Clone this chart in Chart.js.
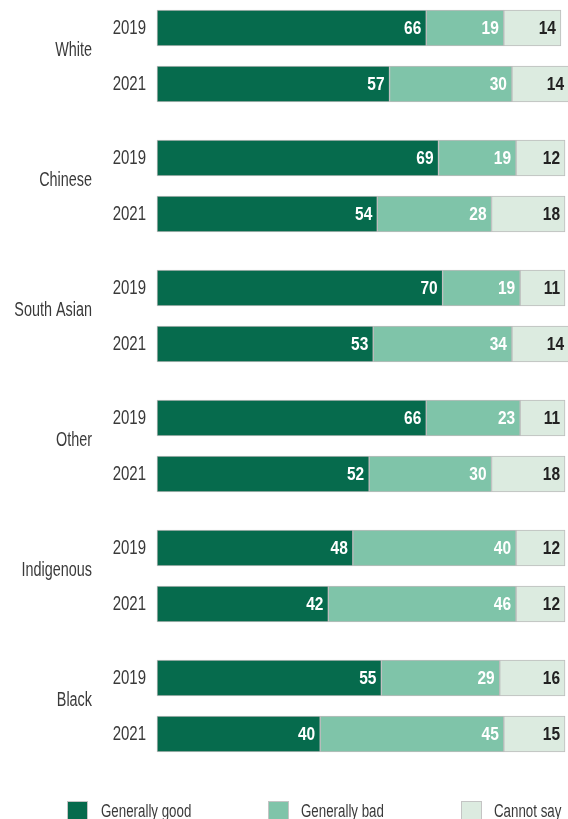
<!DOCTYPE html>
<html>
<head>
<meta charset="utf-8">
<script src="https://cdn.jsdelivr.net/npm/chart.js@4/dist/chart.umd.min.js"></script>
<style>
  body { margin: 0; background: #fff; }
  #chartBox { position: relative; width: 568px; height: 819px; }
</style>
</head>
<body>
<div id="chartBox"><canvas id="barChart"></canvas></div>
<script>
const groups = ['White', 'Chinese', 'South Asian', 'Other', 'Indigenous', 'Black'];
const years = ['2019', '2021'];
const seriesNames = ['Generally good', 'Generally bad', 'Cannot say'];

// values per group: [2019, 2021]
const good = [[66, 57], [69, 54], [70, 53], [66, 52], [48, 42], [55, 40]];
const bad = [[19, 30], [19, 28], [19, 34], [23, 30], [40, 46], [29, 45]];
const cannotSay = [[14, 14], [12, 18], [11, 14], [11, 18], [12, 12], [16, 15]];

const colors = ['#066b4d', '#7fc4a9', '#dcebe0'];
const labelColors = ['#ffffff', '#ffffff', '#222222'];
const fontFam = "'Liberation Sans', Arial, sans-serif";

// layout of rows, in "bar slot" units
const GROUP_STEP = 130 / 56;
function rowPos(g, yr) { return g * GROUP_STEP + yr; }

function buildData(arr) {
  const out = [];
  arr.forEach((pair, gi) => pair.forEach((v, yi) => out.push({ x: v, y: rowPos(gi, yi) })));
  return out;
}

const allSeries = [good, bad, cannotSay];

// squeezed text to fake a condensed face
function narrowText(ctx, txt, x, y, squeeze) {
  ctx.save();
  ctx.translate(x, y);
  ctx.scale(squeeze, 1);
  ctx.fillText(txt, 0, 0);
  ctx.restore();
}

const barLabels = {
  id: 'barLabels',
  afterDatasetsDraw(chart) {
    const ctx = chart.ctx;
    ctx.save();
    ctx.font = 'bold 18px ' + fontFam;
    ctx.textAlign = 'right';
    ctx.textBaseline = 'middle';
    chart.data.datasets.forEach((ds, di) => {
      const meta = chart.getDatasetMeta(di);
      ctx.fillStyle = labelColors[di];
      meta.data.forEach((bar, i) => {
        narrowText(ctx, String(ds.data[i].x), bar.x - 5, bar.y + 1, 0.86);
      });
    });
    ctx.restore();
  }
};

const rowLabels = {
  id: 'rowLabels',
  afterDraw(chart) {
    const ctx = chart.ctx;
    const yScale = chart.scales.y;
    ctx.save();
    ctx.fillStyle = '#3a3a3a';
    ctx.textAlign = 'right';
    ctx.textBaseline = 'middle';
    ctx.font = '20px ' + fontFam;
    groups.forEach((g, gi) => {
      const y1 = yScale.getPixelForValue(rowPos(gi, 0));
      const y2 = yScale.getPixelForValue(rowPos(gi, 1));
      narrowText(ctx, years[0], 146, y1, 0.75);
      narrowText(ctx, years[1], 146, y2, 0.75);
      narrowText(ctx, g, 92, (y1 + y2) / 2 - 6, 0.72);
    });
    ctx.restore();
  }
};

// legend drawn under the plot
const legendPos = [[67, 101], [268, 301], [461, 494]];
const bottomLegend = {
  id: 'bottomLegend',
  afterDraw(chart) {
    const ctx = chart.ctx;
    ctx.save();
    ctx.font = '18px ' + fontFam;
    ctx.textAlign = 'left';
    ctx.textBaseline = 'alphabetic';
    seriesNames.forEach((name, i) => {
      ctx.fillStyle = colors[i];
      ctx.fillRect(legendPos[i][0], 801.5, 21, 20);
      ctx.strokeStyle = '#c4c4c4';
      ctx.lineWidth = 1;
      ctx.strokeRect(legendPos[i][0] + 0.5, 801.5, 20, 20);
      ctx.fillStyle = '#3a3a3a';
      narrowText(ctx, name, legendPos[i][1], 816.5, 0.74);
    });
    ctx.restore();
  }
};

const barChart = new Chart(document.getElementById('barChart'), {
  type: 'bar',
  data: {
    datasets: allSeries.map((s, i) => ({
      label: seriesNames[i],
      data: buildData(s),
      backgroundColor: colors[i],
      borderColor: '#bdbdbd',
      borderWidth: 1,
      borderSkipped: false,
      barThickness: 36,
      clip: false
    }))
  },
  options: {
    indexAxis: 'y',
    responsive: true,
    maintainAspectRatio: false,
    animation: false,
    layout: { padding: { left: 157, right: 3, top: 0, bottom: 49 } },
    plugins: { legend: { display: false }, tooltip: { enabled: false } },
    scales: {
      x: {
        stacked: true,
        min: 0,
        max: 100,
        display: false
      },
      y: {
        type: 'linear',
        stacked: true,
        reverse: true,
        offset: false,
        min: -0.5,
        max: 770 / 56 - 0.5,
        display: false
      }
    }
  },
  plugins: [barLabels, rowLabels, bottomLegend]
});
</script>
</body>
</html>
